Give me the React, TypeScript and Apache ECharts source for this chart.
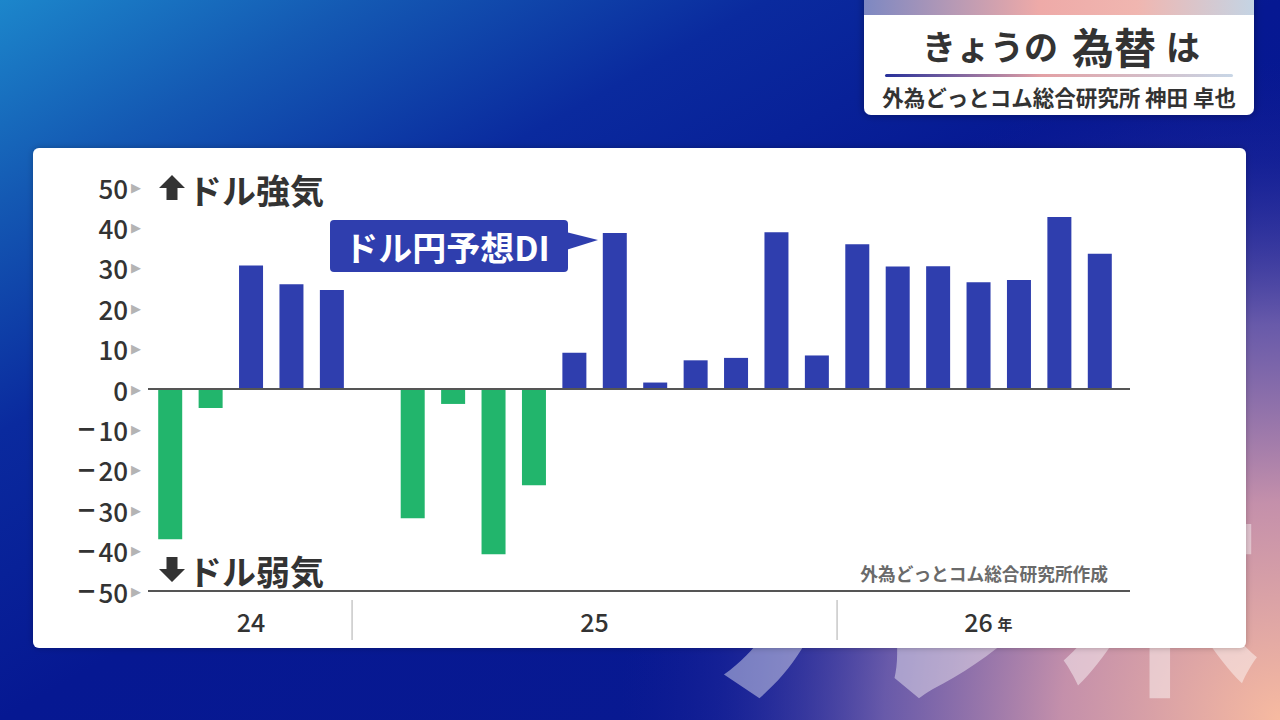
import React, { useEffect, useRef } from "react";
import * as echarts from "echarts";

const months = [
  "2024-08", "2024-09", "2024-10", "2024-11", "2024-12",
  "2025-01", "2025-02", "2025-03", "2025-04", "2025-05", "2025-06",
  "2025-07", "2025-08", "2025-09", "2025-10", "2025-11", "2025-12",
  "2026-01", "2026-02", "2026-03", "2026-04", "2026-05", "2026-06", "2026-07",
];
const diValues = [
  -37.2, -4.7, 30.6, 25.9, 24.5,
  0, -32.0, -3.7, -40.9, -23.8, 9.0,
  38.6, 1.6, 7.1, 7.7, 38.8, 8.3,
  35.8, 30.3, 30.4, 26.4, 27.0, 42.6, 33.5,
];
const yMin = -50;
const yMax = 50;
const yInterval = 10;
const yearGroups = [
  { label: "24", suffix: "", first: 0, last: 4 },
  { label: "25", suffix: "", first: 5, last: 16 },
  { label: "26", suffix: "年", first: 17, last: 23 },
];
const seriesName = "ドル円予想DI";
const upLabel = "ドル強気";
const downLabel = "ドル弱気";
const sourceText = "外為どっとコム総合研究所作成";
const titleParts = ["きょうの", "為替", "は"];
const subtitle = "外為どっとコム総合研究所 神田 卓也";
const watermark = ["ル", "米"];

const FONT = '"Noto Sans CJK JP", "Noto Sans", sans-serif';
const BLUE = "#2f3eae";
const GREEN = "#22b56c";
const INK = "#333333";

export default function App() {
  const ref = useRef<HTMLDivElement>(null);

  useEffect(() => {
    const chart = echarts.init(ref.current!, null, { renderer: "svg" });

    chart.setOption({
      animation: false,
      textStyle: { fontFamily: FONT },
      grid: { left: 150, right: 160, top: 187, bottom: 129, containLabel: false },
      xAxis: {
        type: "category",
        data: months,
        axisLine: { show: false },
        axisTick: { show: false },
        axisLabel: { show: false },
        splitLine: { show: false },
      },
      yAxis: {
        type: "value",
        min: yMin,
        max: yMax,
        interval: yInterval,
        axisLine: { show: false },
        axisTick: { show: false },
        splitLine: { show: false },
        axisLabel: {
          margin: 9,
          formatter: (v: number) =>
            v < 0 ? `{m|−}{v|${Math.abs(v)}}{t|▶}` : `{v|${v}}{t|▶}`,
          rich: {
            m: { fontFamily: "DejaVu Sans", fontSize: 24, fontWeight: "bold", color: INK, padding: [0, 2, 0, 0] },
            v: { fontFamily: FONT, fontSize: 26, fontWeight: 500, color: INK },
            t: { fontFamily: "DejaVu Sans", fontSize: 13, color: "#b4b4b4", padding: [0, 0, 0, 3] },
          },
        },
      },
      series: [
        {
          name: seriesName,
          type: "bar",
          data: diValues,
          barWidth: 24,
          z: 5,
          itemStyle: {
            color: (p: any) => (p.value < 0 ? GREEN : BLUE),
          },
        },
      ],
    });

    const px = (i: number) => chart.convertToPixel({ xAxisIndex: 0 }, i) as number;
    const py = (v: number) => chart.convertToPixel({ yAxisIndex: 0 }, v) as number;
    const step = px(1) - px(0);
    const xStart = px(0) - step / 2 - 2;
    const xEnd = px(months.length - 1) + step / 2 + 10;
    const y0 = py(0);
    const yBottom = py(yMin);

    const bgGrad = new echarts.graphic.LinearGradient(0, 0, 1, 1, [
      { offset: 0, color: "#1c86cb" },
      { offset: 0.14, color: "#1459b3" },
      { offset: 0.3, color: "#0a2a9e" },
      { offset: 0.5, color: "#061892" },
      { offset: 1, color: "#0a1a90" },
    ]);
    const pinkGlow = new echarts.graphic.RadialGradient(1280, 720, 660, [
      { offset: 0, color: "rgba(247,186,160,1)" },
      { offset: 0.33, color: "rgba(206,150,172,0.95)" },
      { offset: 0.6, color: "rgba(128,106,176,0.8)" },
      { offset: 0.85, color: "rgba(50,50,160,0.3)" },
      { offset: 1, color: "rgba(30,30,150,0)" },
    ], true);
    const stripGrad = new echarts.graphic.LinearGradient(0, 0, 1, 0, [
      { offset: 0, color: "#7d88c2" },
      { offset: 0.45, color: "#eeaaa8" },
      { offset: 0.7, color: "#f0b6b0" },
      { offset: 1, color: "#c4d4e4" },
    ]);
    const lineGrad = new echarts.graphic.LinearGradient(0, 0, 1, 0, [
      { offset: 0, color: "#27309a" },
      { offset: 0.45, color: "#e3a0a4" },
      { offset: 1, color: "#c8d6e6" },
    ]);

    const staticEls: any[] = [
      { type: "rect", z: -10, shape: { x: 0, y: 0, width: 1280, height: 720 }, style: { fill: bgGrad } },
      { type: "rect", z: -10, shape: { x: 0, y: 0, width: 1280, height: 720 }, style: { fill: pinkGlow } },
      {
        type: "text", z: -9, x: 889, y: 710,
        style: { text: watermark[0], font: `500 370px ${FONT}`, fill: "rgba(255,255,255,0.42)", textAlign: "center", textVerticalAlign: "bottom" },
      },
      {
        type: "text", z: -9, x: 1160, y: 692, scaleX: 1, scaleY: 1.55,
        style: { text: watermark[1], font: `500 205px ${FONT}`, fill: "rgba(255,255,255,0.45)", textAlign: "center", textVerticalAlign: "bottom" },
      },
      {
        type: "rect", z: -5,
        shape: { x: 33, y: 148, width: 1213, height: 500, r: 6 },
        style: { fill: "#ffffff", shadowBlur: 6, shadowColor: "rgba(0,0,0,0.25)" },
      },
      // title box
      {
        type: "rect", z: 20,
        shape: { x: 864, y: -10, width: 390, height: 125, r: 7 },
        style: { fill: "#ffffff", shadowBlur: 8, shadowColor: "rgba(0,0,0,0.35)" },
      },
      { type: "rect", z: 21, shape: { x: 864, y: 0, width: 390, height: 15 }, style: { fill: stripGrad } },
      {
        type: "text", z: 22, x: 1061, y: 45,
        style: {
          text: `{a|${titleParts[0]}}{b|${titleParts[1]}}{c|${titleParts[2]}}`,
          textAlign: "center", textVerticalAlign: "middle",
          rich: {
            a: { fontFamily: FONT, fontSize: 34, fontWeight: "bold", fill: INK, color: INK, padding: [0, 14, 0, 0] },
            b: { fontFamily: FONT, fontSize: 42, fontWeight: "bold", fill: INK, color: INK },
            c: { fontFamily: FONT, fontSize: 34, fontWeight: "bold", fill: INK, color: INK, padding: [0, 0, 0, 10] },
          },
        },
      },
      { type: "rect", z: 22, shape: { x: 885, y: 74, width: 348, height: 3, r: 1.5 }, style: { fill: lineGrad } },
      {
        type: "text", z: 22, x: 1059, y: 96,
        style: { text: subtitle, font: `bold 21.5px ${FONT}`, fill: INK, textAlign: "center", textVerticalAlign: "middle" },
      },
      // up / down labels
      {
        type: "polygon", z: 10,
        shape: { points: [[172, 175], [185, 188], [177.5, 188], [177.5, 200], [166.5, 200], [166.5, 188], [159, 188]] },
        style: { fill: INK },
      },
      {
        type: "text", z: 10, x: 188, y: 189,
        style: { text: upLabel, font: `bold 34px ${FONT}`, fill: INK, textAlign: "left", textVerticalAlign: "middle" },
      },
      {
        type: "polygon", z: 10,
        shape: { points: [[166.5, 557], [177.5, 557], [177.5, 569], [185, 569], [172, 582], [159, 569], [166.5, 569]] },
        style: { fill: INK },
      },
      {
        type: "text", z: 10, x: 188, y: 570,
        style: { text: downLabel, font: `bold 34px ${FONT}`, fill: INK, textAlign: "left", textVerticalAlign: "middle" },
      },
      // callout
      {
        type: "rect", z: 10,
        shape: { x: 330, y: 220, width: 238, height: 52, r: 4 },
        style: { fill: BLUE },
      },
      {
        type: "polygon", z: 10,
        shape: { points: [[566, 232], [598, 240], [566, 250]] },
        style: { fill: BLUE },
      },
      {
        type: "text", z: 11, x: 447, y: 246,
        style: { text: seriesName, font: `bold 34px ${FONT}`, fill: "#ffffff", textAlign: "center", textVerticalAlign: "middle" },
      },
      {
        type: "text", z: 10, x: 1108, y: 573,
        style: { text: sourceText, font: `bold 17.7px ${FONT}`, fill: "#6a6a6a", textAlign: "right", textVerticalAlign: "middle" },
      },
    ];

    const dynEls: any[] = [
      { type: "line", z: 6, shape: { x1: xStart, y1: y0, x2: xEnd, y2: y0 }, style: { stroke: "#555555", lineWidth: 2 } },
      { type: "line", z: 6, shape: { x1: xStart, y1: yBottom, x2: xEnd, y2: yBottom }, style: { stroke: "#555555", lineWidth: 2 } },
    ];
    yearGroups.forEach((g, gi) => {
      const cx = (px(g.first) + px(g.last)) / 2;
      dynEls.push({
        type: "text", z: 10, x: cx, y: yBottom + 30,
        style: { text: g.label, font: `500 25px ${FONT}`, fill: INK, textAlign: "center", textVerticalAlign: "middle" },
      });
      if (g.suffix) {
        dynEls.push({
          type: "text", z: 10, x: cx + 19, y: yBottom + 32,
          style: { text: g.suffix, font: `bold 15px ${FONT}`, fill: INK, textAlign: "left", textVerticalAlign: "middle" },
        });
      }
      if (gi > 0) {
        const sx = (px(g.first - 1) + px(g.first)) / 2;
        dynEls.push({
          type: "line", z: 10,
          shape: { x1: sx, y1: yBottom + 9, x2: sx, y2: yBottom + 49 },
          style: { stroke: "#c8c8c8", lineWidth: 1.5 },
        });
      }
    });

    chart.setOption({ graphic: [...staticEls, ...dynEls] });

    return () => chart.dispose();
  }, []);

  return (
    <div
      ref={ref}
      style={{ position: "absolute", left: 0, top: 0, width: 1280, height: 720 }}
    />
  );
}
